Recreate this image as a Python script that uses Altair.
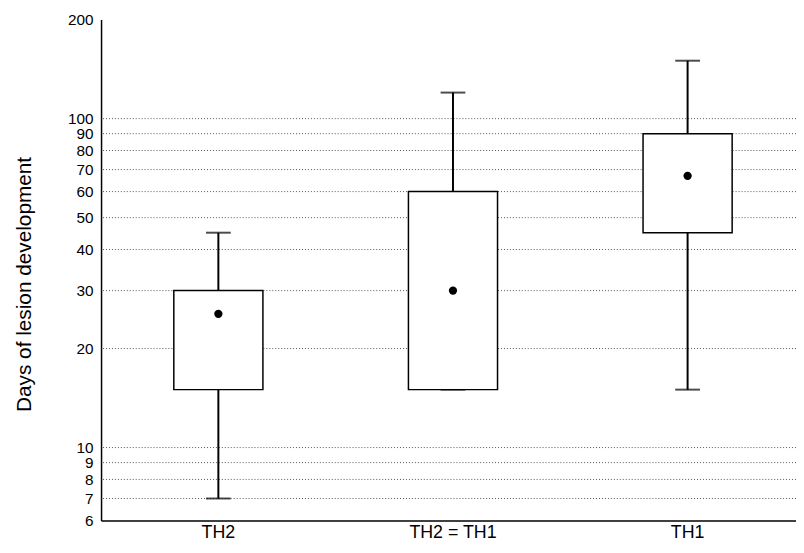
import altair as alt
import pandas as pd

groups = ["TH2", "TH2 = TH1", "TH1"]
mins = [7, 15, 15]
q1s = [15, 15, 45]
q3s = [30, 60, 90]
maxs = [45, 120, 150]
mids = [25.5, 30, 67]

tick_vals = [6, 7, 8, 9, 10, 20, 30, 40, 50, 60, 70, 80, 90, 100, 200]
grid_vals = [7, 8, 9, 10, 20, 30, 40, 50, 60, 70, 80, 90, 100]

df = pd.DataFrame({"g": groups, "lo": mins, "q1": q1s, "q3": q3s, "hi": maxs, "mid": mids})
gdf = pd.DataFrame({"v": grid_vals})

FONT = "Liberation Sans"
YTITLE = "Days of lesion development"

xscale = alt.Scale(domain=groups, paddingInner=0, paddingOuter=0)
yscale = alt.Scale(type="log", domain=[6, 200], nice=False)
xaxis = alt.Axis(labelAngle=0, ticks=False, labelPadding=3, grid=False, labelFontSize=18)
yaxis = alt.Axis(values=tick_vals, format="d", ticks=False, labelPadding=8, grid=False,
                 labelOverlap=False, labelFontSize=15.5,
                 titleX=-77, titleY=267, titleBaseline="middle", titleFontSize=21)


def X():
    return alt.X("g:N", sort=groups, title=None, scale=xscale, axis=xaxis)


def Y(field):
    return alt.Y(field, scale=yscale, title=YTITLE, axis=yaxis)


grid = alt.Chart(gdf).mark_rule(color="#555555", strokeDash=[1, 2], strokeWidth=1).encode(
    y=Y("v:Q")
)
whisk = alt.Chart(df).mark_rule(color="black", strokeWidth=2).encode(
    x=X(), y=Y("lo:Q"), y2="hi:Q"
)
cap_lo = alt.Chart(df).mark_tick(color="black", size=25, thickness=2).encode(
    x=X(), y=Y("lo:Q")
)
cap_hi = alt.Chart(df).mark_tick(color="black", size=25, thickness=2).encode(
    x=X(), y=Y("hi:Q")
)
box = alt.Chart(df).mark_bar(size=90, fill="white", stroke="black", strokeWidth=1.5).encode(
    x=X(), y=Y("q1:Q"), y2="q3:Q"
)
dot = alt.Chart(df).mark_point(filled=True, color="black", size=70, opacity=1).encode(
    x=X(), y=Y("mid:Q")
)

chart = alt.layer(grid, whisk, cap_lo, cap_hi, box, dot).properties(
    width=711, height=506,
    autosize=alt.AutoSizeParams(type="none"),
    padding={"left": 94, "top": 9, "right": -9, "bottom": 22},
    background="white",
).configure_view(stroke=None).configure_axis(
    labelFont=FONT, labelColor="black", domainColor="black", domainWidth=1.5,
    titleFont=FONT, titleColor="black", titleFontWeight="normal",
)

chart.save("out.html", embed_options={"renderer": "svg", "actions": False})
